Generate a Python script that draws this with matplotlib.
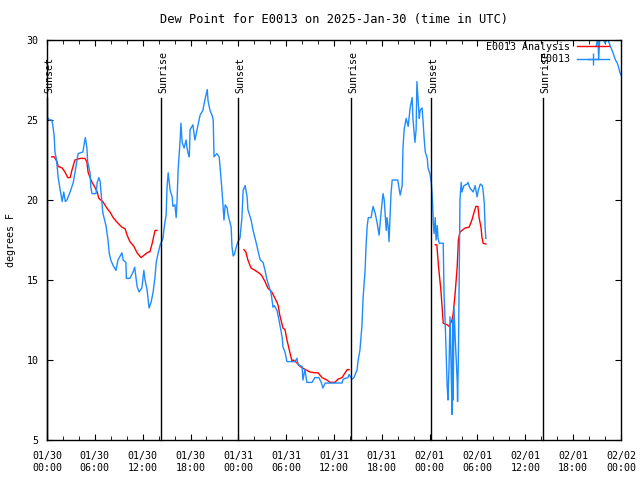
import numpy as np
import matplotlib
matplotlib.use("Agg")
import matplotlib.pyplot as plt
import matplotlib.ticker as mticker
from matplotlib.lines import Line2D

plt.rcParams['font.family'] = 'DejaVu Sans Mono'
plt.rcParams['font.size'] = 7.2

# hours since 2025-01-30 00:00 UTC, dew point in degrees F
obs_hours = [0.0, 0.3, 0.6, 0.75, 0.9, 1.0, 1.2, 1.4, 1.6, 1.9, 2.1, 2.3, 2.5, 2.9, 3.3, 3.5, 3.9,
             4.5, 4.8, 5.0, 5.1, 5.4, 5.5, 5.65, 6.15, 6.3, 6.5, 6.65, 6.9, 7.0, 7.4, 7.65, 7.8,
             8.0, 8.3, 8.65, 8.9, 9.4, 9.55, 9.9, 9.95, 10.4, 10.8, 11.0, 11.3, 11.55, 11.9,
             12.15, 12.3, 12.55, 12.8, 13.05, 13.3, 13.55, 13.7, 13.95, 14.2, 14.55, 14.7, 14.95,
             15.05, 15.2, 15.45, 15.7, 15.8, 16.05, 16.2, 16.3, 16.45, 16.7, 16.8, 16.95, 17.2,
             17.45, 17.55, 17.7, 17.85, 17.95, 18.3, 18.55, 18.95, 19.2, 19.55, 19.8, 20.1, 20.2,
             20.45, 20.7, 20.85, 20.95, 21.3, 21.6, 21.95, 22.1, 22.2, 22.35, 22.6, 22.7, 23.1,
             23.2, 23.35, 23.5, 23.7, 23.95, 24.2, 24.45, 24.6, 24.85, 25.1, 25.2, 25.6, 25.85,
             26.1, 26.35, 26.5, 26.75, 27.1, 27.35, 27.6, 27.85, 28.1, 28.35, 28.5, 28.85, 29.1,
             29.5, 29.6, 29.85, 30.1, 31.1, 31.35, 31.5, 32.0, 32.1, 32.35, 32.6, 33.25, 33.6,
             34.1, 34.4, 34.6, 34.9, 37.0, 37.15, 37.75, 37.9, 38.25, 38.5, 38.9, 39.0, 39.25,
             39.5, 39.65, 39.9, 40.0, 40.15, 40.3, 40.65, 40.9, 41.15, 41.4, 41.65, 41.9, 42.15,
             42.3, 42.55, 42.65, 42.8, 42.9, 43.15, 43.3, 44.0, 44.3, 44.55, 44.65, 44.8, 45.05,
             45.3, 45.55, 45.8, 45.9, 46.15, 46.3, 46.4, 46.7, 46.8, 47.05, 47.2, 47.3, 47.45,
             47.7, 47.8, 48.05, 48.2, 48.3, 48.4, 48.45, 48.55, 48.7, 48.8, 48.95, 49.05, 49.2,
             49.7, 49.8, 49.95, 50.2, 50.3, 50.45, 50.55, 50.7, 50.8, 50.9, 50.95, 51.05, 51.2,
             51.45, 51.5, 51.6, 51.7, 51.8, 51.95, 52.05, 52.3, 52.7, 52.8, 53.05, 53.45, 53.7,
             53.95, 54.1, 54.35, 54.6, 54.7, 54.85, 54.95, 55.05,
             55.1,
             68.9, 69.1, 69.2, 69.35, 69.6, 70.0, 70.3, 70.6, 71.0, 71.3, 71.5, 71.7, 71.85, 72.0]
obs_dewpt = [25.2, 25.0, 25.0, 24.6, 24.0, 23.0, 22.5, 21.4, 20.8, 19.9, 20.5, 19.9, 20.0, 20.5, 21.1, 21.7, 22.9,
             23.0, 23.9, 23.3, 22.4, 21.7, 20.8, 20.4, 20.4, 21.1, 21.4, 21.2, 19.8, 19.2, 18.4, 17.5, 16.7,
             16.25, 15.9, 15.6, 16.25, 16.7, 16.25, 16.1, 15.1, 15.1, 15.5, 15.8, 14.6, 14.25, 14.5,
             15.6, 15.0, 14.4, 13.25, 13.6, 14.2, 15.2, 16.1, 16.7, 17.2, 17.6, 18.3, 19.1,
             20.75, 21.7, 20.6, 20.2, 19.6, 19.7, 18.9, 19.8, 21.9, 23.75, 24.8, 23.6, 23.25,
             23.75, 23.3, 22.9, 22.7, 24.4, 24.7, 23.75, 24.7, 25.3, 25.6, 26.25, 26.9, 26.2,
             25.6, 25.3, 25.0, 22.7, 22.9, 22.7, 20.6, 19.5, 18.75, 19.7, 19.5, 19.1, 18.3,
             17.1, 16.5, 16.6, 17.0, 17.4, 17.6, 18.9, 20.6, 20.9, 20.2, 19.4, 18.75, 18.1,
             17.6, 17.1, 16.75, 16.25, 16.1, 15.6, 15.0, 14.6, 14.2, 13.3, 13.4, 13.1, 12.5,
             11.4, 10.8, 10.5, 9.9, 9.9, 10.1, 9.7, 9.6, 8.75, 9.4, 8.6, 8.6, 8.9,
             8.9, 8.6, 8.25, 8.56, 8.56, 8.8, 8.9, 9.1, 8.8, 8.9, 9.4, 9.9, 10.6,
             12.1, 13.9, 15.6, 16.9, 18.3, 18.9, 18.9, 19.6, 19.2, 18.6, 17.8, 19.2, 20.4,
             20.0, 18.1, 18.9, 18.3, 17.4, 20.4, 21.25, 21.25, 20.3, 20.9, 23.25, 24.4, 25.1,
             24.6, 25.75, 26.4, 25.1, 23.6, 24.4, 27.4, 25.1, 25.6, 25.75, 24.7, 23.9, 23.0,
             22.6, 22.0, 21.6, 21.1, 20.4, 19.4, 18.6, 17.9, 18.9, 17.5, 18.4, 17.6, 17.3,
             17.3, 14.2, 12.3, 8.3, 7.5, 10.0, 12.7, 9.4, 6.6, 12.5, 7.5, 13.3, 11.4,
             8.75, 7.4, 10.0, 14.8, 20.0, 21.1, 20.5, 20.9, 21.0, 21.1, 20.75, 20.5, 20.9,
             20.2, 20.6, 21.0, 20.9, 20.6, 19.8, 18.3, 17.6,
             np.nan,
             29.6, 30.3, 28.8, 30.3, 30.2, 29.8, 30.1, 29.7, 29.2, 28.75, 28.6, 28.3, 28.0, 27.8]

ana_hours = [0.6, 0.9, 1.25, 1.4, 1.9, 2.25, 2.6, 2.9, 3.15, 3.5, 4.15, 4.75, 5.0, 5.15, 5.4, 5.65,
             5.9, 6.3, 6.5, 7.0, 7.5, 7.9, 8.3, 8.8, 9.4, 9.8, 10.05, 10.4, 10.9, 11.3, 11.8, 12.3,
             12.7, 12.9, 13.2, 13.55, 13.8,
             14.0,
             24.7, 24.95, 25.2, 25.6, 26.1, 26.7, 26.97, 27.35, 27.7, 28.2, 28.35, 28.85, 29.0,
             29.2, 29.6, 29.85, 30.1, 30.5, 30.75, 30.9, 31.4, 31.75, 32.4, 33.0, 33.6, 34.0,
             34.5, 35.1, 35.5, 36.1, 36.5, 37.0, 37.4, 37.65, 37.9,
             38.0,
             48.7, 48.9, 49.1, 49.4, 49.55, 49.7, 50.2, 50.45, 50.8, 50.95, 51.2, 51.45, 51.6,
             51.8, 52.45, 52.95, 53.3, 53.55, 53.8, 54.05, 54.2, 54.45, 54.55, 54.7, 55.05]
ana_dewpt = [22.7, 22.7, 22.4, 22.1, 22.0, 21.75, 21.4, 21.4, 21.9, 22.5, 22.6, 22.6, 22.4, 21.75, 21.4, 21.1,
             20.9, 20.5, 20.1, 19.9, 19.5, 19.25, 18.9, 18.6, 18.3, 18.2, 17.8, 17.4, 17.1, 16.7, 16.4, 16.6,
             16.75, 16.75, 17.3, 18.1, 18.1,
             np.nan,
             16.9, 16.75, 16.25, 15.75, 15.6, 15.4, 15.25, 14.9, 14.5, 14.25, 14.1, 13.6, 13.4,
             12.8, 12.0, 11.9, 11.25, 10.4, 9.9, 10.0, 9.8, 9.6, 9.4, 9.25, 9.2, 9.2,
             8.9, 8.75, 8.6, 8.6, 8.8, 8.9, 9.2, 9.4, 9.4,
             np.nan,
             17.2, 17.2, 15.9, 14.4, 13.4, 12.3, 12.2, 12.1, 12.5, 12.9, 14.2, 15.8, 17.5,
             18.0, 18.25, 18.3, 18.75, 19.2, 19.6, 19.6, 18.9, 18.25, 17.7, 17.3, 17.25]

sun_hours = [0.0, 14.3, 23.97, 38.14, 48.15, 62.23]
sun_labels = ['Sunset', 'Sunrise', 'Sunset', 'Sunrise', 'Sunset', 'Sunrise']

tick_labels = ['01/30\n00:00', '01/30\n06:00', '01/30\n12:00', '01/30\n18:00',
               '01/31\n00:00', '01/31\n06:00', '01/31\n12:00', '01/31\n18:00',
               '02/01\n00:00', '02/01\n06:00', '02/01\n12:00', '02/01\n18:00',
               '02/02\n00:00']

blue = '#1e8cff'

fig = plt.figure(figsize=(6.4, 4.8), dpi=100)
ax = fig.add_axes([47/640, 40/480, 574/640, 400/480])

ax.plot(ana_hours, ana_dewpt, color='red', lw=1.0)
ax.plot(obs_hours, obs_dewpt, color=blue, lw=1.0)

for h, lab in zip(sun_hours, sun_labels):
    ax.plot([h, h], [0, 0.855], color='black', lw=1.0,
            transform=ax.get_xaxis_transform(), clip_on=False)
    ax.text(h + 0.3, 0.868, lab, rotation=90, ha='center', va='bottom',
            transform=ax.get_xaxis_transform())

ax.set_xlim(0, 72)
ax.set_ylim(5, 30)
ax.xaxis.set_minor_locator(mticker.MultipleLocator(2))
ax.set_xticks(np.arange(0, 73, 6))
ax.set_xticklabels(tick_labels)
ax.yaxis.set_major_locator(mticker.MultipleLocator(5))
ax.tick_params(which='both', direction='in', top=True, right=True, pad=8)
ax.tick_params(which='major', length=4.5)
ax.tick_params(which='minor', length=3)
ax.tick_params(axis='y', pad=6)
for s in ax.spines.values():
    s.set_linewidth(1.0)

ax.set_ylabel('degrees F', labelpad=8)
ax.set_title('Dew Point for E0013 on 2025-Jan-30 (time in UTC)', pad=12)

handles = [Line2D([], [], color='red', lw=1.0),
           Line2D([], [], color=blue, lw=1.0, marker='+', markersize=8)]
ax.legend(handles, ['E0013 Analysis', 'E0013'], loc='upper right',
          bbox_to_anchor=(0.99, 1.01), frameon=False, markerfirst=False,
          handlelength=3.2, handletextpad=0.7, labelspacing=0.25,
          borderaxespad=0.2)

fig.savefig('out.png', dpi=100)
